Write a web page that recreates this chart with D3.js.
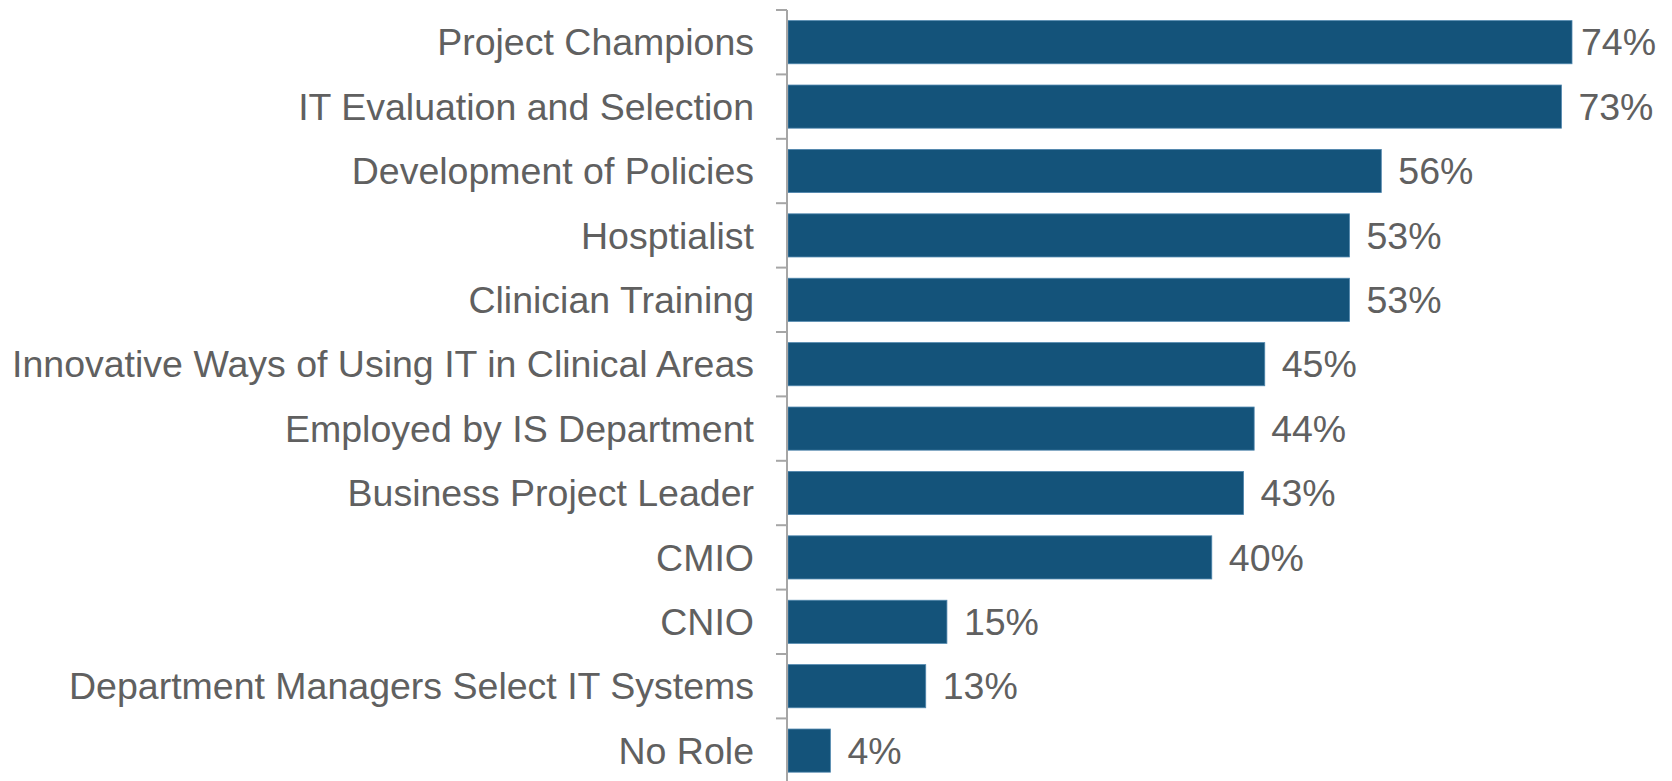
<!DOCTYPE html>
<html>
<head>
<meta charset="utf-8">
<script src="https://cdn.jsdelivr.net/npm/d3@7"></script>
<style>
  body { margin: 0; background: #fff; }
  svg text { font-family: "Liberation Sans", Arial, sans-serif; fill: #606060; }
</style>
</head>
<body>
<svg width="1672" height="781"></svg>
<script>
// chart data
var categories = [
    'Project Champions',
    'IT Evaluation and Selection',
    'Development of Policies',
    'Hosptialist',
    'Clinician Training',
    'Innovative Ways of Using IT in Clinical Areas',
    'Employed by IS Department',
    'Business Project Leader',
    'CMIO',
    'CNIO',
    'Department Managers Select IT Systems',
    'No Role'
];
var values = [74, 73, 56, 53, 53, 45, 44, 43, 40, 15, 13, 4];

var svg = d3.select('svg');
var axisX = 787;
var plotTop = 10;
var step = 64.4;
var fontSize = '37.5px';

var yScale = d3.scaleBand()
    .domain(categories)
    .range([plotTop, plotTop + step * categories.length])
    .paddingInner(0.33)
    .paddingOuter(0.165);

var xScale = d3.scaleLinear().domain([0, 74]).range([axisX + 1, 1572]);

var rows = categories.map(function(c, i) { return { name: c, value: values[i] }; });

// bars
svg.append('g').selectAll('rect')
    .data(rows)
    .enter()
    .append('rect')
    .attr('x', xScale(0))
    .attr('y', d => yScale(d.name))
    .attr('width', d => xScale(d.value) - xScale(0))
    .attr('height', yScale.bandwidth())
    .attr('fill', '#14537a')
    .attr('stroke', '#4f86ad')
    .attr('stroke-width', 0.8);

// value labels, pulled back in if they would run past the right edge
svg.append('g').selectAll('text')
    .data(rows)
    .enter()
    .append('text')
    .attr('y', d => yScale(d.name) + yScale.bandwidth() / 2)
    .attr('dy', '0.35em')
    .style('font-size', fontSize)
    .text(d => d.value + '%')
    .attr('x', function(d) {
        var w = this.getComputedTextLength();
        return Math.min(xScale(d.value) + 17, 1656 - w);
    });

// category axis: line with ticks on band boundaries
var axisG = svg.append('g');
var bounds = d3.range(categories.length + 1).map(i => plotTop + i * step);
axisG.append('line')
    .attr('x1', axisX).attr('x2', axisX)
    .attr('y1', plotTop).attr('y2', 781)
    .attr('stroke', '#a6a6a6').attr('stroke-width', 2);
axisG.selectAll('.tick')
    .data(bounds)
    .enter()
    .append('line')
    .attr('class', 'tick')
    .attr('x1', axisX - 11).attr('x2', axisX)
    .attr('y1', d => d).attr('y2', d => d)
    .attr('stroke', '#a6a6a6').attr('stroke-width', 2);

axisG.selectAll('.cat')
    .data(categories)
    .enter()
    .append('text')
    .attr('class', 'cat')
    .attr('x', 754)
    .attr('y', d => yScale(d) + yScale.bandwidth() / 2)
    .attr('dy', '0.35em')
    .attr('text-anchor', 'end')
    .style('font-size', fontSize)
    .text(d => d);
</script>
</body>
</html>
